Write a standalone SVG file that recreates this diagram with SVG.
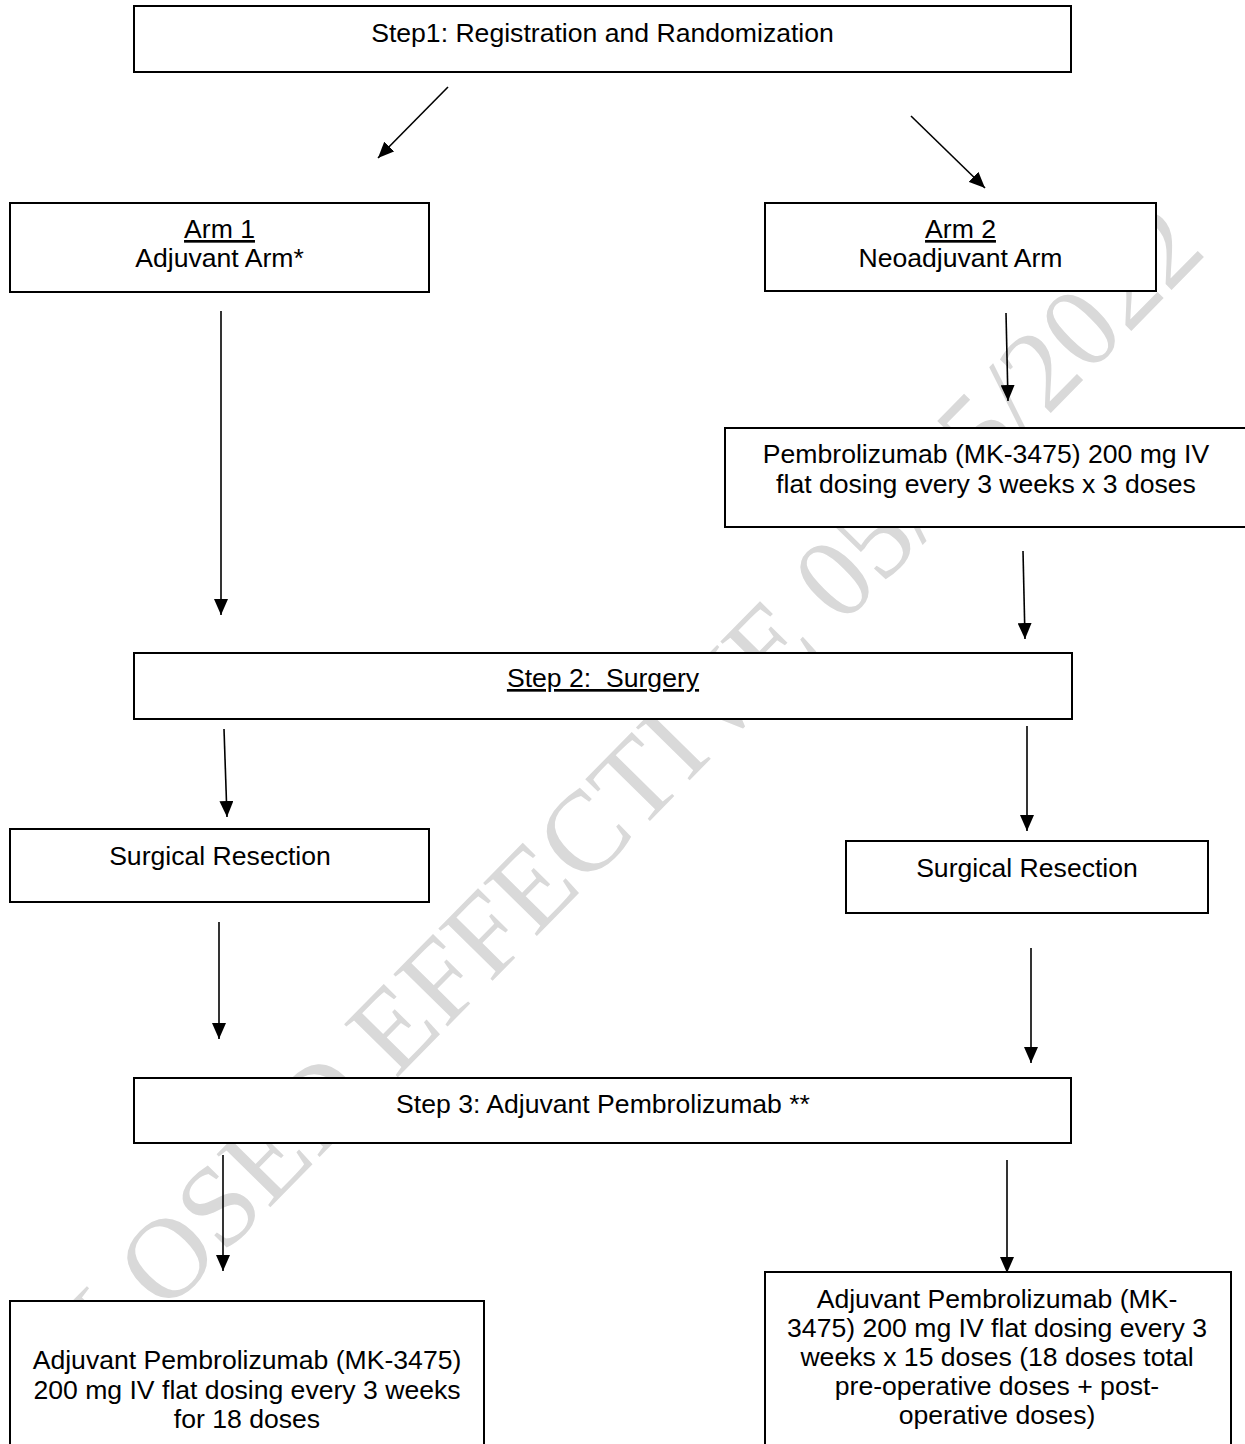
<svg xmlns="http://www.w3.org/2000/svg" width="1245" height="1444" viewBox="0 0 1245 1444">
<style>
.box{fill:#fff;stroke:#000;stroke-width:2}
.t{font-family:"Liberation Sans",Arial,sans-serif;font-size:26.6px;fill:#000;text-anchor:middle}
.u{text-decoration:underline}
.c{stroke:#000;stroke-width:1.6;fill:none;marker-end:url(#ah)}
.wm{font-family:"Liberation Serif","Times New Roman",serif;font-size:115px;fill:#d9d9d9}
</style>
<defs>
<marker id="ah" markerUnits="userSpaceOnUse" markerWidth="16" markerHeight="14" refX="16" refY="7" orient="auto" viewBox="0 0 16 14"><path d="M0,0L16,7L0,14z" fill="#000"/></marker>
</defs>
<rect width="1245" height="1444" fill="#fff"/>
<g id="watermark"><text class="wm" transform="translate(167,1258) rotate(-45.5)" x="-188.5" y="38">CLOSED EFFECTIVE 05/25/2022</text></g>
<g id="connectors">
<line class="c" x1="448" y1="87" x2="378" y2="158"/>
<line class="c" x1="911" y1="116" x2="985" y2="188"/>
<line class="c" x1="221" y1="311" x2="221" y2="615"/>
<line class="c" x1="1006" y1="313" x2="1008" y2="401"/>
<line class="c" x1="1023" y1="551" x2="1025" y2="639"/>
<line class="c" x1="224" y1="729" x2="227" y2="817"/>
<line class="c" x1="1027" y1="726" x2="1027" y2="831"/>
<line class="c" x1="219" y1="922" x2="219" y2="1039"/>
<line class="c" x1="1031" y1="948" x2="1031" y2="1063"/>
<line class="c" x1="223" y1="1155" x2="223" y2="1271"/>
<line class="c" x1="1007" y1="1160" x2="1007" y2="1273"/>
</g>
<g id="step1"><rect class="box" x="134" y="6" width="937" height="66"/><text class="t" x="602.5" y="41.5">Step1: Registration and Randomization</text></g>
<g id="arm1"><rect class="box" x="10" y="203" width="419" height="89"/><text class="t" x="219.5" y="238"><tspan class="u">Arm 1</tspan></text><text class="t" x="219.5" y="267">Adjuvant Arm*</text></g>
<g id="arm2"><rect class="box" x="765" y="203" width="391" height="88"/><text class="t" x="960.5" y="238"><tspan class="u">Arm 2</tspan></text><text class="t" x="960.5" y="267">Neoadjuvant Arm</text></g>
<g id="neoadjuvant"><rect class="box" x="725" y="428" width="522" height="99"/><text class="t" x="986" y="463">Pembrolizumab (MK-3475) 200 mg IV</text><text class="t" x="986" y="493">flat dosing every 3 weeks x 3 doses</text></g>
<g id="step2"><rect class="box" x="134" y="653" width="938" height="66"/><text class="t" x="603" y="687" style="white-space:pre"><tspan class="u">Step 2:  Surgery</tspan></text></g>
<g id="surgery1"><rect class="box" x="10" y="829" width="419" height="73"/><text class="t" x="220" y="865">Surgical Resection</text></g>
<g id="surgery2"><rect class="box" x="846" y="841" width="362" height="72"/><text class="t" x="1027" y="877">Surgical Resection</text></g>
<g id="step3"><rect class="box" x="134" y="1078" width="937" height="65"/><text class="t" x="603" y="1113">Step 3: Adjuvant Pembrolizumab **</text></g>
<g id="adjuvant1"><rect class="box" x="10" y="1301" width="474" height="160"/><text class="t" x="247" y="1369">Adjuvant Pembrolizumab (MK-3475)</text><text class="t" x="247" y="1399">200 mg IV flat dosing every 3 weeks</text><text class="t" x="247" y="1428">for 18 doses</text></g>
<g id="adjuvant2"><rect class="box" x="765" y="1272" width="466" height="190"/><text class="t" x="997" y="1308">Adjuvant Pembrolizumab (MK-</text><text class="t" x="997" y="1337">3475) 200 mg IV flat dosing every 3</text><text class="t" x="997" y="1366">weeks x 15 doses (18 doses total</text><text class="t" x="997" y="1395">pre-operative doses + post-</text><text class="t" x="997" y="1424">operative doses)</text></g>
</svg>
